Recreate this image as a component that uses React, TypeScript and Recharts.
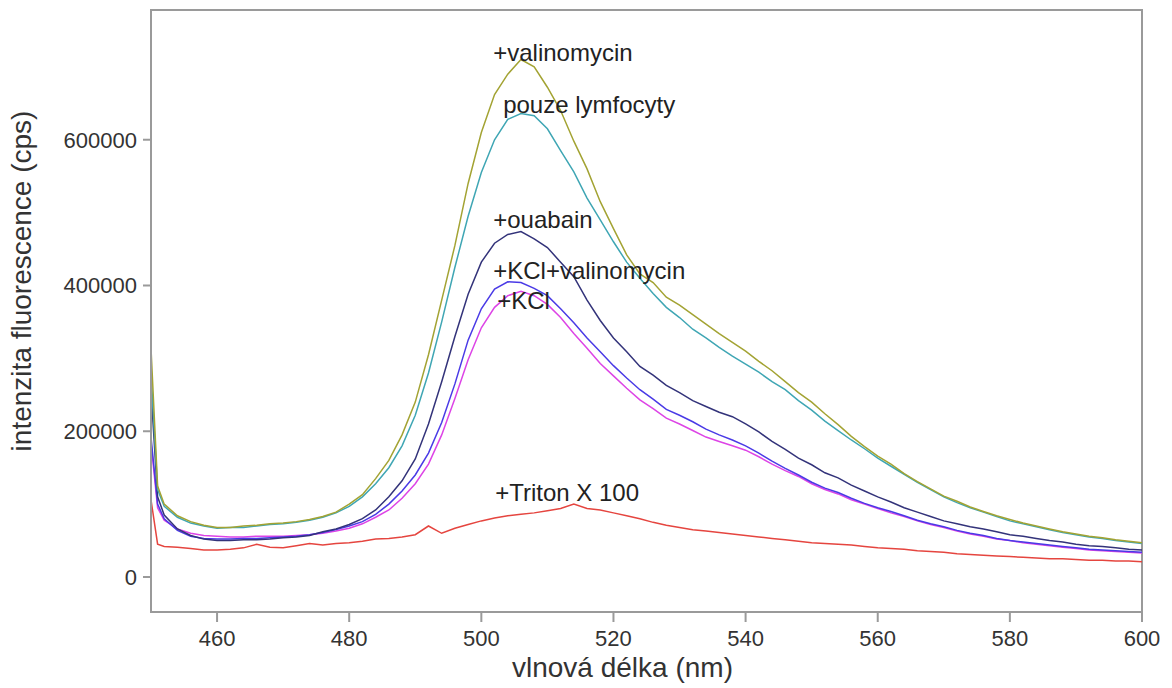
import { LineChart, Line, XAxis, YAxis, ReferenceArea, ReferenceDot } from 'recharts';

// wavelength in nm
const wavelength = [
  450, 451, 452, 454, 456, 458, 460, 462, 464, 466, 468, 470, 472, 474, 476, 478, 480, 482, 484, 486, 488,
  490, 492, 494, 496, 498, 500, 502, 504, 506, 508, 510, 512, 514, 516, 518, 520, 522, 524, 526, 528,
  530, 532, 534, 536, 538, 540, 542, 544, 546, 548, 550, 552, 554, 556, 558, 560, 562, 564, 566, 568,
  570, 572, 574, 576, 578, 580, 582, 584, 586, 588, 590, 592, 594, 596, 598, 600,
];

// intensities in thousands of cps
const valinomycin = [
  314, 125, 100, 84, 76, 71, 68, 68, 70, 71, 73, 74, 76, 79, 83, 89, 100, 113, 135, 160, 195,
  240, 305, 380, 455, 540, 610, 662, 690, 710, 700, 672, 640, 598, 560, 515, 478, 442, 416, 404, 384,
  373, 360, 347, 334, 322, 310, 296, 283, 268, 253, 240, 224, 209, 193, 179, 166, 155, 142, 131, 121,
  111, 104, 96, 90, 84, 79, 74, 70, 66, 62, 59, 56, 54, 51, 49, 47,
];
const lymfocyty = [
  280, 120, 97, 82, 74, 70, 67, 68, 68, 70, 72, 73, 75, 78, 82, 88, 97, 110, 128, 150, 180,
  222, 280, 350, 425, 495, 555, 600, 628, 636, 633, 615, 585, 556, 520, 490, 460, 432, 410, 389, 370,
  356, 340, 328, 315, 303, 292, 281, 268, 257, 242, 229, 214, 201, 188, 176, 163, 152, 141, 130, 120,
  110, 102, 95, 89, 83, 77, 73, 69, 65, 61, 58, 55, 53, 50, 48, 46,
];
const ouabain = [
  257, 110, 85, 66, 57, 52, 50, 50, 51, 51, 52, 54, 55, 57, 62, 66, 72, 80, 92, 110, 132,
  162, 210, 268, 330, 388, 432, 458, 470, 474, 464, 452, 432, 412, 380, 352, 328, 309, 289, 277, 263,
  253, 242, 234, 226, 220, 210, 199, 186, 175, 163, 154, 143, 136, 126, 118, 110, 103, 95, 89, 83,
  77, 73, 69, 66, 62, 58, 56, 53, 50, 48, 45, 43, 42, 40, 38, 37,
];
const kclValinomycin = [
  192, 100, 80, 64, 56, 53, 52, 52, 53, 53, 54, 55, 56, 58, 61, 65, 70, 76, 86, 100, 118,
  140, 170, 212, 265, 325, 368, 395, 405, 404, 396, 386, 368, 349, 328, 309, 290, 273, 257, 244, 230,
  222, 213, 203, 195, 188, 180, 170, 159, 149, 140, 130, 122, 116, 108, 101, 95, 90, 84, 78, 73,
  69, 64, 60, 57, 53, 50, 48, 46, 44, 42, 40, 38, 37, 36, 35, 34,
];
const kcl = [
  184, 95, 78, 66, 60, 57, 56, 55, 55, 56, 56, 56, 57, 58, 60, 63, 67, 73, 82, 92, 108,
  128, 155, 195, 245, 298, 342, 370, 386, 392, 386, 374, 356, 334, 314, 293, 276, 259, 243, 231, 218,
  210, 201, 192, 186, 180, 174, 165, 155, 146, 138, 128, 120, 114, 106, 100, 94, 88, 83, 77, 72,
  68, 63, 59, 56, 52, 50, 47, 45, 43, 41, 39, 37, 36, 35, 34, 33,
];
const triton = [
  106, 45, 42, 41, 39, 37, 37, 38, 40, 45, 41, 40, 43, 46, 44, 46, 47, 49, 52, 53, 55,
  58, 70, 60, 67, 72, 77, 81, 84, 86, 88, 91, 94, 100, 94, 92, 88, 84, 80, 75, 71,
  68, 65, 63, 61, 59, 57, 55, 53, 51, 49, 47, 46, 45, 44, 42, 40, 39, 38, 36, 35,
  34, 32, 31, 30, 29, 28, 27, 26, 25, 25, 24, 23, 23, 22, 22, 21,
];

const xTicks = [460, 480, 500, 520, 540, 560, 580, 600];
const yTicks = [0, 200000, 400000, 600000];

const data = wavelength.map((nm, i) => ({
  nm,
  valinomycin: valinomycin[i] * 1000,
  lymfocyty: lymfocyty[i] * 1000,
  ouabain: ouabain[i] * 1000,
  kclValinomycin: kclValinomycin[i] * 1000,
  kcl: kcl[i] * 1000,
  triton: triton[i] * 1000,
}));

// curve labels placed in data coordinates
const notes = [
  { text: '+valinomycin', x: 501.8, y: 708000 },
  { text: 'pouze lymfocyty', x: 503.3, y: 637000 },
  { text: '+ouabain', x: 501.8, y: 479000 },
  { text: '+KCl+valinomycin', x: 501.8, y: 409000 },
  { text: '+KCl', x: 502.4, y: 368000 },
  { text: '+Triton X 100', x: 502.1, y: 104000 },
];

const FONT = '"Liberation Sans", Arial, sans-serif';
const AXIS = '#9a9a9a';

export default function App() {
  return (
    <div style={{ position: 'absolute', left: 0, top: 0, background: '#fff' }}>
      <LineChart width={1172} height={688} data={data} margin={{ top: 10, right: 30, bottom: 0, left: 0 }}>
        <XAxis
          dataKey="nm"
          type="number"
          domain={[450, 600]}
          ticks={xTicks}
          height={76}
          stroke={AXIS}
          strokeWidth={2}
          tickSize={10}
          tickMargin={8}
          tick={{ fill: '#333', fontSize: 22, fontFamily: FONT }}
          label={{
            content: ({ viewBox }: any) => (
              <text x={viewBox.x + viewBox.width / 2 - 24} y={677} textAnchor="middle" fill="#333" fontSize={28} fontFamily={FONT}>
                vlnová délka (nm)
              </text>
            ),
          }}
        />
        <YAxis
          type="number"
          domain={[-48000, 778000]}
          allowDataOverflow
          ticks={yTicks}
          width={151}
          stroke={AXIS}
          strokeWidth={2}
          tickSize={8}
          tickMargin={6}
          tick={{ fill: '#333', fontSize: 22, fontFamily: FONT }}
          label={{
            content: ({ viewBox }: any) => {
              const cx = 31;
              const cy = viewBox.y + viewBox.height / 2 - 30;
              return (
                <text x={cx} y={cy} transform={`rotate(-90 ${cx} ${cy})`} textAnchor="middle" fill="#333" fontSize={28} fontFamily={FONT}>
                  intenzita fluorescence (cps)
                </text>
              );
            },
          }}
        />
        <ReferenceArea x1={450} x2={600} y1={-48000} y2={778000} fill="none" stroke={AXIS} strokeWidth={2} />
        <Line dataKey="triton" stroke="#e5453f" strokeWidth={1.5} dot={false} isAnimationActive={false} />
        <Line dataKey="kcl" stroke="#dd44e6" strokeWidth={1.5} dot={false} isAnimationActive={false} />
        <Line dataKey="kclValinomycin" stroke="#4a3ae6" strokeWidth={1.5} dot={false} isAnimationActive={false} />
        <Line dataKey="ouabain" stroke="#33337a" strokeWidth={1.5} dot={false} isAnimationActive={false} />
        <Line dataKey="lymfocyty" stroke="#3fa6b4" strokeWidth={1.5} dot={false} isAnimationActive={false} />
        <Line dataKey="valinomycin" stroke="#a3a333" strokeWidth={1.5} dot={false} isAnimationActive={false} />
        {notes.map((n) => (
          <ReferenceDot
            key={n.text}
            x={n.x}
            y={n.y}
            r={0}
            shape={(p: any) => (
              <text x={p.cx} y={p.cy} fill="#222" fontSize={24} fontFamily={FONT}>
                {n.text}
              </text>
            )}
          />
        ))}
      </LineChart>
    </div>
  );
}
